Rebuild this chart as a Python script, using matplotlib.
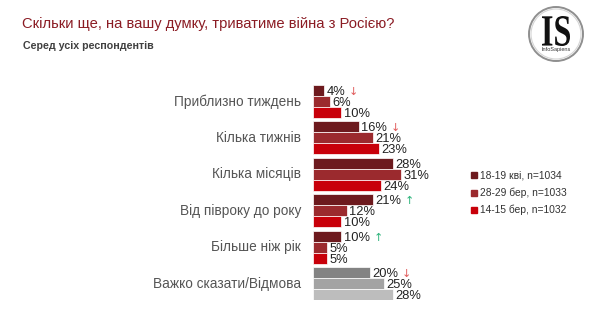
import matplotlib
matplotlib.use("Agg")
import matplotlib.pyplot as plt
from matplotlib.patches import Circle, Rectangle, PathPatch
from matplotlib.textpath import TextPath
from matplotlib.font_manager import FontProperties
from matplotlib.transforms import Affine2D

categories = ["Приблизно тиждень", "Кілька тижнів", "Кілька місяців",
              "Від півроку до року", "Більше ніж рік", "Важко сказати/Відмова"]
series_names = ["18-19 кві, n=1034", "28-29 бер, n=1033", "14-15 бер, n=1032"]
apr_18_19 = [4, 16, 28, 21, 10, 20]
mar_28_29 = [6, 21, 31, 12, 5, 25]
mar_14_15 = [10, 23, 24, 10, 5, 28]
trend = ["down", "down", "", "up", "up", "down"]

series = [apr_18_19, mar_28_29, mar_14_15]
red_colors = ["#6d1a1e", "#9b2a2e", "#c8000a"]
grey_colors = ["#838383", "#a3a3a3", "#bdbdbd"]

plt.rcParams["font.family"] = ["Liberation Sans", "DejaVu Sans"]

W, H = 600, 331
fig = plt.figure(figsize=(W / 100, H / 100), dpi=100)
fig.patch.set_facecolor("white")

x0 = 313
ppp = 2.85
xmax = 50
top_px, bot_px = 85, 300
ax = fig.add_axes([x0 / W, 1 - bot_px / H, ppp * xmax / W, (bot_px - top_px) / H])
ax.set_xlim(0, xmax)
n = len(categories)
bh = 0.302
ax.set_ylim(n - 1 + 1.5 * bh, -1.5 * bh)
ax.axis("off")

for i, cat in enumerate(categories):
    cols = grey_colors if i == n - 1 else red_colors
    first_label = None
    for j, s in enumerate(series):
        y = i + (j - 1) * bh
        ax.barh(y, s[i], height=bh, color=cols[j], edgecolor="white", linewidth=0.5)
        t = ax.text(s[i] + 0.8, y + 0.04, f"{s[i]}%", va="center", ha="left",
                    fontsize=9.3, color="#222222")
        if j == 0:
            first_label = t
    if trend[i]:
        sym = "↓" if trend[i] == "down" else "↑"
        col = "#e05a5a" if trend[i] == "down" else "#2bb37a"
        ax.annotate(sym, xy=(1, 0.5), xycoords=first_label, xytext=(2.5, 0),
                    textcoords="offset points", ha="left", va="center",
                    fontsize=8, color=col, family="DejaVu Sans")
    ax.text(-4.2, i, cat, ha="right", va="center", fontsize=9.8, color="#555555")

fig.text(22 / W, 1 - 24 / H, "Скільки ще, на вашу думку, триватиме війна з Росією?",
         fontsize=10.6, color="#8b1c24", ha="left", va="center")
fig.text(23 / W, 1 - 46 / H, "Серед усіх респондентів", fontsize=7.7,
         color="#404040", ha="left", va="center", weight="bold")

leg_y = [175, 193, 210]
for k, name in enumerate(series_names):
    fig.patches.append(Rectangle((471 / W, 1 - (leg_y[k] + 3) / H), 6 / W, 6 / H,
                                 transform=fig.transFigure, color=red_colors[k],
                                 figure=fig))
    fig.text(480 / W, 1 - leg_y[k] / H, name, fontsize=7.4, color="#333333",
             ha="left", va="center")

# logo
lax = fig.add_axes([(556 - 32) / W, 1 - (34 + 32) / H, 64 / W, 64 / H])
lax.set_xlim(-32, 32)
lax.set_ylim(-32, 32)
lax.set_aspect("equal")
lax.axis("off")
lax.add_patch(Circle((0, 0), 27, fill=False, ec="#8f8f8f", lw=1.4))
lax.add_patch(Circle((0, 0), 25, fill=False, ec="#d5d5d5", lw=0.8))
tp = TextPath((0, 0), "IS", size=10,
              prop=FontProperties(family="Liberation Serif", weight="bold"))
ext = tp.get_extents()
sx = 28 / ext.width
sy = 30 / ext.height
tr = (Affine2D().translate(-ext.x0 - ext.width / 2, -ext.y0 - ext.height / 2)
      .scale(sx, sy).translate(0, 3))
lax.add_patch(PathPatch(tr.transform_path(tp), fc="#111111", ec="none"))
lax.text(0, -15, "InfoSapiens", fontsize=4, ha="center", va="center", color="#333333")

fig.savefig("out.png", dpi=100, facecolor="white")
